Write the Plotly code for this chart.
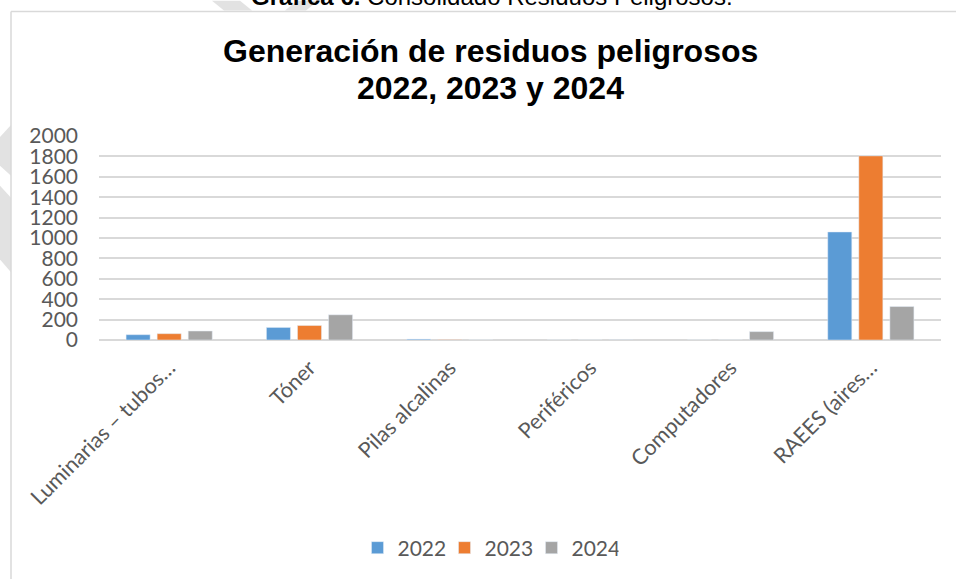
import plotly.graph_objects as go

# Data
categories = ["Luminarias – tubos…", "Tóner", "Pilas alcalinas", "Periféricos",
              "Computadores", "RAEES (aires…"]
years = ["2022", "2023", "2024"]
values_2022 = [52, 123, 8, 0, 0, 1059]
values_2023 = [62, 142, 5, 0, 0, 1805]
values_2024 = [88, 247, 0, 3, 82, 328]
colors = ["#5B9BD5", "#ED7D31", "#A5A5A5"]
y_ticks = list(range(0, 2001, 200))

title_line1 = "Generación de residuos peligrosos"
title_line2 = "2022, 2023 y 2024"
caption = "<b>Gráfica 6.</b> Consolidado Residuos Peligrosos."

W, H = 956, 579
ML, MR, MT, MB = 99, 15, 136, 238
PW, PH = W - ML - MR, H - MT - MB


def fx(px):
    """pixel x -> paper x"""
    return (px - ML) / PW


def fy(py):
    """pixel y (from top) -> paper y"""
    return (H - MB - py) / PH


FONT_FAMILY = "Lato, 'Open Sans', sans-serif"
Y_FONT = dict(family=FONT_FAMILY, size=21, color="#595959")
X_FONT = dict(family=FONT_FAMILY, size=21.5, color="#595959")
LEGEND_FONT = dict(family=FONT_FAMILY, size=21, color="#595959")
TITLE_FONT = dict(family="'Liberation Sans', Arial, sans-serif", size=32, color="#000000",
                  weight="bold")

fig = go.Figure()
for name, vals, col in zip(years, [values_2022, values_2023, values_2024], colors):
    fig.add_trace(go.Bar(x=categories, y=vals, name=name, marker=dict(color=col)))

shapes = []
# light watermark shapes outside the chart frame
wm = "#E2E2E2"
for poly in [
    [(0, 137), (11, 125), (11, 176), (0, 166)],
    [(0, 186), (11, 198), (11, 273), (0, 260)],
    [(212, 0), (240, 0), (252, 10), (224, 10)],
    [(285, 10), (297, 0), (318, 0), (306, 10)],
]:
    path = "M " + " L ".join(f"{fx(x)},{fy(y)}" for x, y in poly) + " Z"
    shapes.append(dict(type="path", xref="paper", yref="paper", path=path,
                       fillcolor=wm, line=dict(width=0), layer="below"))
# chart frame (left and top edges)
shapes.append(dict(type="line", xref="paper", yref="paper",
                   x0=fx(11), x1=fx(11), y0=fy(11), y1=fy(H + 5),
                   line=dict(color="#D9D9D9", width=1.5)))
shapes.append(dict(type="line", xref="paper", yref="paper",
                   x0=fx(11), x1=fx(W + 5), y0=fy(11), y1=fy(11),
                   line=dict(color="#D9D9D9", width=1.5)))

annotations = [
    dict(text=title_line1, xref="paper", yref="paper", x=fx(490.5), y=fy(51),
         xanchor="center", yanchor="middle", showarrow=False, font=TITLE_FONT),
    dict(text=title_line2, xref="paper", yref="paper", x=fx(490.5), y=fy(87.5),
         xanchor="center", yanchor="middle", showarrow=False, font=TITLE_FONT),
    dict(text=caption, xref="paper", yref="paper", x=fx(491.5), y=fy(11),
         xanchor="center", yanchor="bottom", showarrow=False,
         font=dict(family="'Liberation Sans', Arial, sans-serif", size=24, color="#000000")),
]

fig.update_layout(
    width=W, height=H,
    margin=dict(l=ML, r=MR, t=MT, b=MB, pad=0),
    paper_bgcolor="white", plot_bgcolor="white",
    barmode="group", bargap=0.336, bargroupgap=0.226,
    shapes=shapes, annotations=annotations,
    showlegend=True,
    legend=dict(orientation="h", x=fx(488), xanchor="center", y=fy(548), yanchor="middle",
                font=LEGEND_FONT, itemwidth=30, traceorder="normal",
                entrywidth=42, entrywidthmode="pixels"),
    xaxis=dict(tickangle=-45, tickfont=X_FONT, showline=False, showgrid=False,
               ticks="", ticklabelstandoff=10),
    yaxis=dict(range=[0, 2000], tickvals=y_ticks, ticktext=[str(v) for v in y_ticks],
               tickfont=Y_FONT, showgrid=True, gridcolor="#D9D9D9", gridwidth=1.5,
               zeroline=True, zerolinecolor="#D9D9D9", zerolinewidth=1.5,
               ticks="", ticklabelstandoff=20, showline=False),
)

fig.write_html("out.html")
